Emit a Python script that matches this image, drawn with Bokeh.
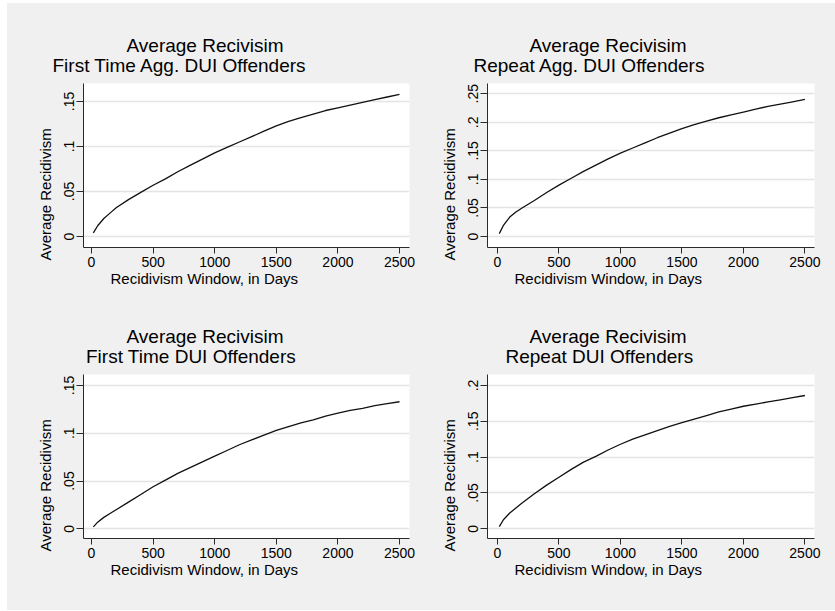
from bokeh.plotting import figure
from bokeh.layouts import column, row
from bokeh.models import Range1d, FixedTicker, Title, Spacer
from bokeh.embed import file_html
from bokeh.resources import INLINE

# ---------------- data ----------------
days = [15, 50, 100, 150, 200, 300, 400, 500, 600, 700, 800, 900, 1000, 1100, 1200,
        1300, 1400, 1500, 1600, 1700, 1800, 1900, 2000, 2100, 2200, 2300, 2400, 2500]

first_agg = [0.004, 0.012, 0.020, 0.026, 0.032, 0.041, 0.049, 0.057, 0.064, 0.072,
             0.079, 0.086, 0.093, 0.099, 0.105, 0.111, 0.117, 0.123, 0.128, 0.132,
             0.136, 0.140, 0.143, 0.146, 0.149, 0.152, 0.155, 0.158]
repeat_agg = [0.005, 0.020, 0.034, 0.043, 0.050, 0.063, 0.077, 0.090, 0.102, 0.114,
              0.125, 0.136, 0.146, 0.155, 0.164, 0.173, 0.181, 0.189, 0.196, 0.202,
              0.208, 0.213, 0.218, 0.223, 0.228, 0.232, 0.236, 0.240]
first_dui = [0.002, 0.007, 0.012, 0.016, 0.020, 0.028, 0.036, 0.044, 0.051, 0.058,
             0.064, 0.070, 0.076, 0.082, 0.088, 0.093, 0.098, 0.103, 0.107, 0.111,
             0.114, 0.118, 0.121, 0.124, 0.126, 0.129, 0.131, 0.133]
repeat_dui = [0.003, 0.013, 0.022, 0.029, 0.036, 0.049, 0.061, 0.072, 0.083, 0.093,
              0.101, 0.110, 0.118, 0.125, 0.131, 0.137, 0.143, 0.148, 0.153, 0.158,
              0.163, 0.167, 0.171, 0.174, 0.177, 0.180, 0.183, 0.186]

title_line1 = "Average Recivisim"
title_line2 = ["First Time Agg. DUI Offenders", "Repeat Agg. DUI Offenders",
               "First Time DUI Offenders", "Repeat DUI Offenders"]
x_title = "Recidivism Window, in Days"
y_title = "Average Recidivism"

x_ticks = [0, 500, 1000, 1500, 2000, 2500]
y_ticks_1 = [0, 0.05, 0.10, 0.15]
y_labels_1 = ["0", ".05", ".1", ".15"]
y_ticks_2 = [0, 0.05, 0.10, 0.15, 0.20, 0.25]
y_labels_2 = ["0", ".05", ".1", ".15", ".2", ".25"]
y_ticks_3 = [0, 0.05, 0.10, 0.15]
y_labels_3 = ["0", ".05", ".1", ".15"]
y_ticks_4 = [0, 0.05, 0.10, 0.15, 0.20]
y_labels_4 = ["0", ".05", ".1", ".15", ".2"]

# ---------------- styling / layout ----------------
BG = "#f0f0f0"
FONT = "Liberation Sans"
AX = "#2a2a2a"

layout_specs = [
    dict(series=first_agg, yt=y_ticks_1, yl=y_labels_1, t2=title_line2[0],
         xr=(-65, 2581), yr=(-0.0122, 0.170), w=408, h=297, bl=76, br=6, bt=80, bb=53,
         t1off=43, t2off=-31),
    dict(series=repeat_agg, yt=y_ticks_2, yl=y_labels_2, t2=title_line2[1],
         xr=(-81, 2578), yr=(-0.0193, 0.268), w=420, h=297, bl=72, br=21, bt=80, bb=53,
         t1off=42, t2off=-14),
    dict(series=first_dui, yt=y_ticks_3, yl=y_labels_3, t2=title_line2[2],
         xr=(-65, 2581), yr=(-0.0101, 0.1615), w=408, h=310, bl=76, br=6, bt=74, bb=72,
         t1off=43, t2off=2.5),
    dict(series=repeat_dui, yt=y_ticks_4, yl=y_labels_4, t2=title_line2[3],
         xr=(-81, 2578), yr=(-0.0135, 0.2153), w=420, h=310, bl=72, br=21, bt=74, bb=72,
         t1off=42, t2off=18),
]


def make_panel(s):
    x0, x1 = s["xr"]
    y0, y1 = s["yr"]
    p = figure(width=s["w"], height=s["h"], output_backend="svg", toolbar_location=None,
               x_range=Range1d(x0, x1), y_range=Range1d(y0, y1),
               min_border_left=s["bl"], min_border_right=s["br"],
               min_border_top=s["bt"], min_border_bottom=s["bb"])
    p.background_fill_color = "white"
    p.border_fill_color = BG
    p.outline_line_color = None

    p.line(days, s["series"], line_color="#111111", line_width=1.3)

    p.xaxis.ticker = FixedTicker(ticks=x_ticks)
    p.yaxis.ticker = FixedTicker(ticks=s["yt"])
    p.yaxis.major_label_overrides = {t: l for t, l in zip(s["yt"], s["yl"])}
    for ax in (p.xaxis[0], p.yaxis[0]):
        ax.axis_line_color = AX
        ax.axis_line_width = 1
        ax.major_tick_line_color = AX
        ax.major_tick_in = 0
        ax.minor_tick_line_color = None
        ax.major_label_text_font = FONT
        ax.major_label_text_font_size = "14px"
        ax.major_label_text_color = "black"
    p.xaxis.major_tick_out = 6
    p.xaxis.major_label_standoff = 3
    p.yaxis.major_tick_out = 7
    p.yaxis.major_label_standoff = 2
    p.yaxis.major_label_orientation = "vertical"

    p.xgrid.visible = False
    p.ygrid.ticker = FixedTicker(ticks=s["yt"])
    p.ygrid.grid_line_color = "#e4e4e4"
    p.ygrid.grid_line_width = 1.3

    # two-line title (second line nearest the plot)
    p.add_layout(Title(text=s["t2"], align="left", offset=s["t2off"], standoff=15,
                       vertical_align="bottom", text_font=FONT, text_font_size="19px",
                       text_font_style="normal", text_color="black"), "above")
    p.add_layout(Title(text=title_line1, align="left", offset=s["t1off"], standoff=-21,
                       vertical_align="bottom", text_font=FONT, text_font_size="19px",
                       text_font_style="normal", text_color="black"), "above")
    # axis titles
    p.add_layout(Title(text=x_title, align="left", offset=27, standoff=0,
                       vertical_align="top", text_font=FONT, text_font_size="15px",
                       text_font_style="normal", text_color="black"), "below")
    p.add_layout(Title(text=y_title, align="left", offset=-13, standoff=16,
                       vertical_align="bottom", text_font=FONT, text_font_size="15px",
                       text_font_style="normal", text_color="black"), "left")
    return p


figs = [make_panel(s) for s in layout_specs]
panels = column(row(figs[0], figs[1], styles={"background-color": BG}),
                row(figs[2], figs[3], styles={"background-color": BG}),
                styles={"background-color": BG})
page = column(Spacer(height=3), row(Spacer(width=7), panels))

open("out.html", "w").write(file_html(page, INLINE))
